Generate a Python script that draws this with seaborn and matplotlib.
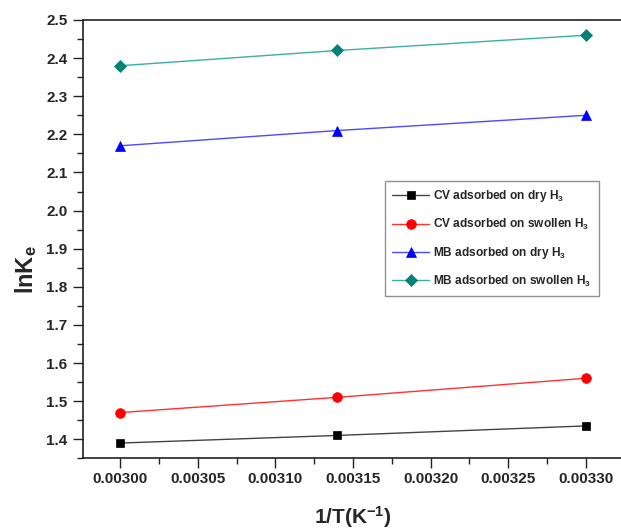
import matplotlib
matplotlib.use("Agg")
import matplotlib.pyplot as plt
from matplotlib.ticker import MultipleLocator, FormatStrFormatter
import seaborn as sns

# ---- data ----
inv_T = [0.00300, 0.00314, 0.00330]
cv_dry = [1.39, 1.41, 1.435]
cv_swollen = [1.47, 1.51, 1.56]
mb_dry = [2.17, 2.21, 2.25]
mb_swollen = [2.38, 2.42, 2.46]
labels = [r"CV adsorbed on dry H$_\mathbf{3}$",
          r"CV adsorbed on swollen H$_\mathbf{3}$",
          r"MB adsorbed on dry H$_\mathbf{3}$",
          r"MB adsorbed on swollen H$_\mathbf{3}$"]
x_ticks = [0.00300, 0.00305, 0.00310, 0.00315, 0.00320, 0.00325, 0.00330]

sns.set_style("ticks")
plt.rcParams["font.family"] = ["Liberation Sans", "DejaVu Sans"]
plt.rcParams["font.weight"] = "bold"
plt.rcParams["mathtext.fontset"] = "custom"
plt.rcParams["mathtext.rm"] = "Liberation Sans:bold"
plt.rcParams["mathtext.bf"] = "Liberation Sans:bold"
plt.rcParams["mathtext.it"] = "Liberation Sans:bold"
plt.rcParams["mathtext.default"] = "bf"

fig = plt.figure(figsize=(6.21, 5.31), dpi=100)
L, R, T, B = 82.7, 623.3, 20.0, 458.3
ax = fig.add_axes([L / 621, 1 - B / 531, (R - L) / 621, (B - T) / 531])

series = [
    (cv_dry, "#000000", "#000000", "s", 6.0, "#444444"),
    (cv_swollen, "#ff0000", "#ff0000", "o", 7.0, "#ff3030"),
    (mb_dry, "#0000ff", "#0000ff", "^", 7.5, "#4a4aff"),
    (mb_swollen, "#008276", "#008276", "D", 6.5, "#38b0a2"),
]
for (ys, fc, ec, mk, ms, lc), lab in zip(series, labels):
    sns.lineplot(x=inv_T, y=ys, ax=ax, color=lc, linewidth=1.0,
                 marker=mk, markersize=ms, markerfacecolor=fc,
                 markeredgecolor=ec, markeredgewidth=0.5, label=lab)

ax.set_xlim(0.0029758, 0.0033242)
ax.set_ylim(1.35, 2.5)
ax.set_xticks(x_ticks)
ax.xaxis.set_major_formatter(FormatStrFormatter("%.5f"))
ax.xaxis.set_minor_locator(MultipleLocator(0.000025))
ax.yaxis.set_major_locator(MultipleLocator(0.1))
ax.yaxis.set_minor_locator(MultipleLocator(0.05))
ax.yaxis.set_major_formatter(FormatStrFormatter("%.1f"))

ax.tick_params(axis="both", which="major", direction="out", length=7,
               width=1.0, labelsize=11, color="#222222")
ax.tick_params(axis="both", which="minor", direction="out", length=4,
               width=1.0, color="#222222")
ax.tick_params(axis="y", which="major", pad=4)
ax.tick_params(axis="x", which="major", pad=3)
ax.tick_params(top=False, right=False, which="both")
for lbl in ax.get_xticklabels() + ax.get_yticklabels():
    lbl.set_fontweight("bold")
for s in ax.spines.values():
    s.set_visible(True)
    s.set_linewidth(1.2)
    s.set_color("#222222")

ax.set_xlabel(r"1/T(K$^{\mathbf{-1}}$)", fontsize=15, fontweight="bold")
ax.set_ylabel(r"lnK$_\mathbf{e}$", fontsize=17, fontweight="bold")
ax.xaxis.set_label_coords(0.5, -0.105)
ax.yaxis.set_label_coords(-0.08, 0.43)

leg = ax.legend(loc="upper left", bbox_to_anchor=(385 / 621, 1 - 181 / 531),
                bbox_transform=fig.transFigure, frameon=True, fancybox=False,
                prop={"size": 8.6, "weight": "bold"}, handlelength=3.1,
                handletextpad=0.33, labelspacing=1.07, borderpad=0.6,
                borderaxespad=0.0)
leg.get_frame().set_edgecolor("#777777")
leg.get_frame().set_linewidth(1.0)

fig.savefig("out.png", dpi=100)
